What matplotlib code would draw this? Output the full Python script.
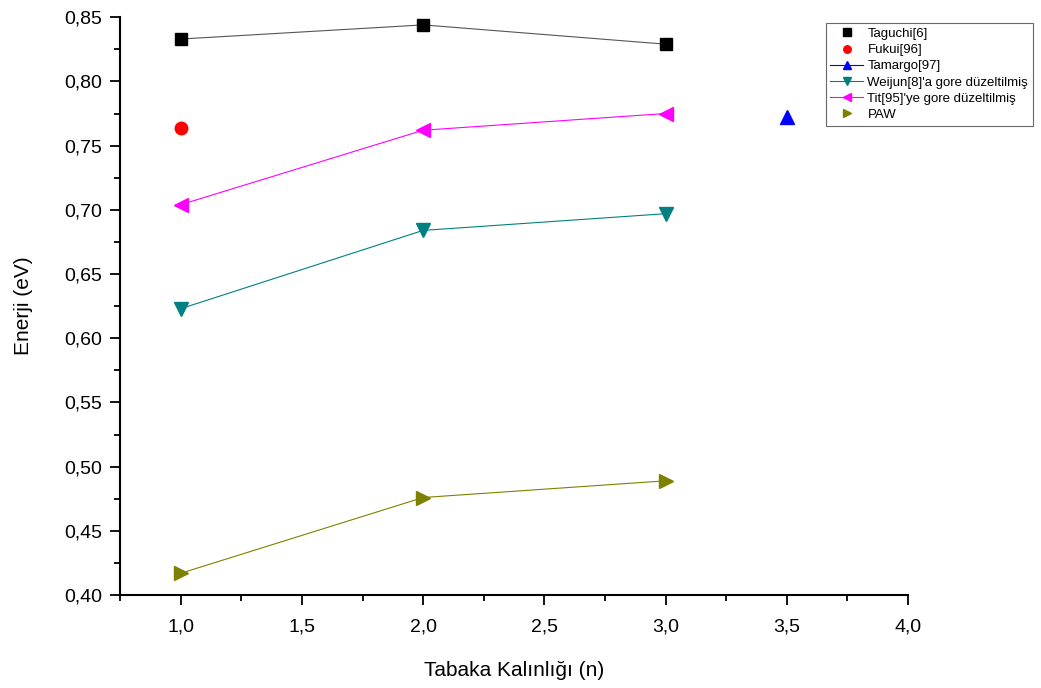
import matplotlib
matplotlib.use("Agg")
import matplotlib.pyplot as plt
from matplotlib.ticker import MultipleLocator, FuncFormatter

plt.rcParams['font.family'] = ['Liberation Sans', 'DejaVu Sans']

# data
n = [1, 2, 3]
taguchi = [0.833, 0.844, 0.829]
fukui_x = [1]
fukui = [0.764]
tamargo_x = [3.5]
tamargo = [0.772]
weijun = [0.623, 0.684, 0.697]
tit = [0.704, 0.762, 0.775]
paw = [0.417, 0.476, 0.489]

fig = plt.figure(figsize=(10.41, 6.88), dpi=100)
ax = fig.add_axes([0.1153, 0.135, 0.757, 0.84])

ax.plot(n, taguchi, color='#555555', lw=0.8, zorder=1)
ax.plot(n, taguchi, ls='none', marker='s', ms=9, color='black', label='Taguchi[6]')
ax.plot(fukui_x, fukui, ls='none', marker='o', ms=9, color='red', label='Fukui[96]')
ax.plot(tamargo_x, tamargo, marker='^', ms=10, color='blue', lw=0.8, label='Tamargo[97]')
ax.plot(n, weijun, marker='v', ms=10, color='#008080', lw=0.8,
        label="Weijun[8]'a gore düzeltilmiş")
ax.plot(n, tit, marker='<', ms=10, color='magenta', lw=0.8,
        label="Tit[95]'ye gore düzeltilmiş")
ax.plot(n, paw, color='#808000', lw=0.8, zorder=1)
ax.plot(n, paw, ls='none', marker='>', ms=10, color='#808000', label='PAW')

ax.set_xlim(0.75, 4.0)
ax.set_ylim(0.40, 0.85)
ax.xaxis.set_major_locator(MultipleLocator(0.5))
ax.xaxis.set_minor_locator(MultipleLocator(0.25))
ax.yaxis.set_major_locator(MultipleLocator(0.05))
ax.yaxis.set_minor_locator(MultipleLocator(0.025))
ax.xaxis.set_major_formatter(FuncFormatter(lambda v, p: f"{v:.1f}".replace('.', ',')))
ax.yaxis.set_major_formatter(FuncFormatter(lambda v, p: f"{v:.2f}".replace('.', ',')))
ax.set_xticks([1.0, 1.5, 2.0, 2.5, 3.0, 3.5, 4.0])

ax.spines['top'].set_visible(False)
ax.spines['right'].set_visible(False)
ax.spines['left'].set_linewidth(1.5)
ax.spines['bottom'].set_linewidth(1.5)
ax.tick_params(which='major', length=7, width=1.3, labelsize=14, direction='out')
ax.tick_params(which='minor', length=4, width=1.3, direction='out')
ax.tick_params(axis='x', pad=10)
ax.tick_params(axis='y', pad=6)

ax.set_xlabel('Tabaka Kalınlığı (n)', fontsize=15, labelpad=18)
ax.set_ylabel('Enerji (eV)', fontsize=15, labelpad=22)

leg = fig.legend(loc='upper left', bbox_to_anchor=(0.787, 0.976), fontsize=9.5,
                 frameon=True, fancybox=False, edgecolor='#444444',
                 handlelength=2.5, markerscale=0.6, borderpad=0.35,
                 labelspacing=0.3, handletextpad=0.3)
leg.get_frame().set_linewidth(0.8)

fig.savefig('out.png', dpi=100)
